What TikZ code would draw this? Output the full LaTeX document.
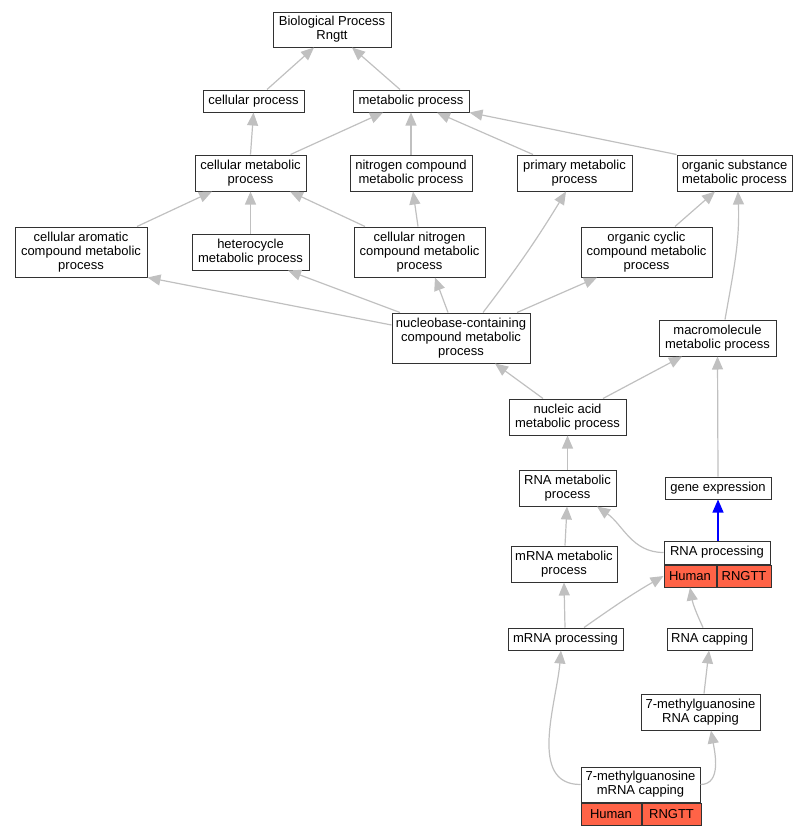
\documentclass[tikz,border=0pt]{standalone}
\usepackage{fontspec}
\setmainfont{Liberation Sans}
\usepackage{tikz}
\usetikzlibrary{arrows.meta,positioning}
\definecolor{edgegray}{RGB}{192,192,192}
\definecolor{hitred}{RGB}{255,99,71}
\definecolor{boxline}{RGB}{50,50,50}

\begin{document}
\begin{tikzpicture}[x=1pt, y=-1pt,
        term/.style={draw=boxline, line width=1pt, fill=white, rectangle, align=center,
            inner xsep=2pt, inner ysep=0pt, font=\fontsize{13}{14}\selectfont},
        cell/.style={term, fill=hitred, minimum height=22},
        isa/.style={draw=edgegray, line width=1.2pt, -{Triangle[length=13pt,width=11pt]}},
        part/.style={isa, draw=blue, -{Triangle[length=13pt,width=11pt,fill=blue]}}]
        \useasboundingbox (0,0) rectangle (808,835);
        % terms
        \node[term, minimum width=118, minimum height=35] (bp) at (332,29.5) {Biological Process\\Rngtt};
        \node[term, minimum width=101, minimum height=22] (cp) at (253.5,101) {cellular process};
        \node[term, minimum width=116, minimum height=22] (mp) at (411,101) {metabolic process};
        \node[term, minimum width=111, minimum height=36] (cm) at (250.5,173) {cellular metabolic\\process};
        \node[term, minimum width=122, minimum height=36] (nc) at (411,173) {nitrogen compound\\metabolic process};
        \node[term, minimum width=115, minimum height=36] (pm) at (574.5,173) {primary metabolic\\process};
        \node[term, minimum width=115, minimum height=36] (os) at (734.5,173) {organic substance\\metabolic process};
        \node[term, minimum width=132, minimum height=50] (ca) at (81,252) {cellular aromatic\\compound metabolic\\process};
        \node[term, minimum width=117, minimum height=36] (hc) at (250.5,252) {heterocycle\\metabolic process};
        \node[term, minimum width=131, minimum height=50] (cn) at (419.5,252) {cellular nitrogen\\compound metabolic\\process};
        \node[term, minimum width=131, minimum height=50] (oc) at (646.5,252) {organic cyclic\\compound metabolic\\process};
        \node[term, minimum width=138, minimum height=50] (nb) at (461,338) {nucleobase-containing\\compound metabolic\\process};
        \node[term, minimum width=117, minimum height=36] (ma) at (717.5,338) {macromolecule\\metabolic process};
        \node[term, minimum width=117, minimum height=36] (na) at (567.5,417) {nucleic acid\\metabolic process};
        \node[term, minimum width=97, minimum height=36] (rm) at (567.5,488) {RNA metabolic\\process};
        \node[term, minimum width=106, minimum height=22] (ge) at (718,488) {gene expression};
        \node[term, minimum width=106, minimum height=36] (mm) at (564,564) {mRNA metabolic\\process};
        \node[term, minimum width=106, minimum height=23] (rp) at (717,552.5) {RNA processing};
        \node[cell, minimum width=52, anchor=north west] (rph) at (rp.south west) {Human};
        \node[cell, minimum width=54, anchor=north west] (rpg) at (rph.north east) {RNGTT};
        \node[term, minimum width=115, minimum height=22] (mpr) at (565.5,639) {mRNA processing};
        \node[term, minimum width=85, minimum height=22] (rc) at (709.5,639) {RNA capping};
        \node[term, minimum width=119, minimum height=36] (mg) at (700.5,712) {7-methylguanosine\\RNA capping};
        \node[term, minimum width=119, minimum height=35] (mmc) at (640.5,784.5) {7-methylguanosine\\mRNA capping};
        \node[cell, minimum width=60, anchor=north west] (mmch) at (mmc.south west) {Human};
        \node[cell, minimum width=59, anchor=north west] (mmcg) at (mmch.north east) {RNGTT};
        % is-a links
        \draw[isa] ([xshift=13.5]cp.north) -- ([xshift=-18]bp.south);
        \draw[isa] ([xshift=-11]mp.north) -- ([xshift=20]bp.south);
        \draw[isa] (cm.north) -- (cp.south);
        \draw[isa] ([xshift=40]cm.north) -- ([xshift=-28]mp.south);
        \draw[isa] (nc.north) -- (mp.south);
        \draw[isa] ([xshift=-41.5]pm.north) -- ([xshift=26]mp.south);
        \draw[isa] (os.north west) -- (mp.south east);
        \draw[isa] ([xshift=56]ca.north) -- ([xshift=-38.5]cm.south);
        \draw[isa] (hc.north) -- (cm.south);
        \draw[isa] ([xshift=-54.5]cn.north) -- ([xshift=39.5]cm.south);
        \draw[isa] ([xshift=-1.5]cn.north) -- ([xshift=2]nc.south);
        \draw[isa] ([xshift=28.5]oc.north) -- ([xshift=-19.5]os.south);
        \draw[isa] ([yshift=13]nb.west) -- (ca.south east);
        \draw[isa] ([xshift=-61]nb.north) -- ([xshift=37.5]hc.south);
        \draw[isa] ([xshift=-13]nb.north) -- ([xshift=15.5]cn.south);
        \draw[isa] ([xshift=22]nb.north) to[bend right=3] ([xshift=-8.5]pm.south);
        \draw[isa] ([xshift=56]nb.north) -- ([xshift=-49.5]oc.south);
        \draw[isa] ([xshift=7.5]ma.north) to[out=80, in=-88] ([xshift=3.5]os.south);
        \draw[isa] ([xshift=-24.5]na.north) -- ([xshift=34]nb.south);
        \draw[isa] ([xshift=35.5]na.north) -- ([xshift=-35.5]ma.south);
        \draw[isa] (rm.north) -- (na.south);
        \draw[isa] (ge.north) -- (ma.south);
        \draw[isa] ([xshift=1]mm.north) -- ([xshift=-0.5]rm.south);
        \draw[isa] (rp.west) to[out=180, in=-35] ([xshift=29.5]rm.south);
        \draw[part] ([xshift=1]rp.north) -- (ge.south);
        \draw[isa] ([xshift=-0.5]mpr.north) -- (mm.south);
        \draw[isa] ([xshift=18.5]mpr.north) to[out=35, in=-150] (rph.west);
        \draw[isa] ([xshift=-6.5]rc.north) to[out=115, in=-80] (rph.south);
        \draw[isa] ([xshift=3.5]mg.north) -- ([xshift=-0.5]rc.south);
        \draw[isa] (mmc.west) to[out=180, in=-95] ([xshift=-4.5]mpr.south);
        \draw[isa] (mmc.east) to[out=0, in=-80] ([xshift=10.5]mg.south);
\end{tikzpicture}
\end{document}
